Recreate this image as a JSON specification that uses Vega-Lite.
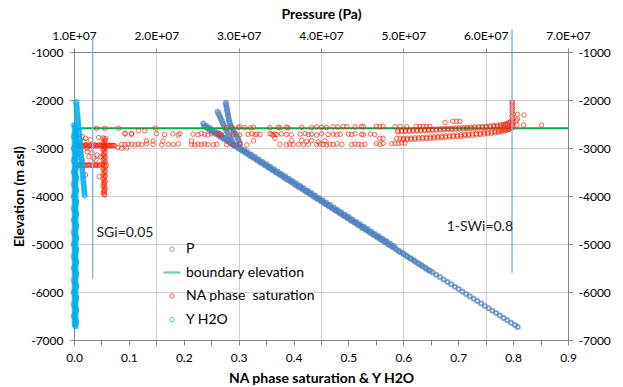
{
"$schema": "https://vega.github.io/schema/vega-lite/v6.json",
"width": 494, "height": 288,
"autosize": "none",
"padding": {"left": 74, "top": 52, "right": 55, "bottom": 47},
"background": "white",
"config": {
 "font": "Lato",
 "view": {"stroke": null},
 "axis": {"labelFont": "Lato", "titleFont": "Lato", "labelFontSize": 12, "labelColor": "#000", "titleColor": "#000", "titleFontSize": 14, "titleFontWeight": "bold", "domainColor": "#868686", "tickColor": "#868686", "gridColor": "#CFCFCF", "gridWidth": 1, "labelFlush": false, "labelOverlap": false}
},
"datasets": {
 "p": [
  {"p":2.580e7,"e":-2540},{"p":2.625e7,"e":-2590},{"p":2.671e7,"e":-2640},{"p":2.716e7,"e":-2690},{"p":2.762e7,"e":-2740},{"p":2.807e7,"e":-2790},{"p":2.853e7,"e":-2840},{"p":2.898e7,"e":-2890},{"p":2.944e7,"e":-2940},{"p":2.989e7,"e":-2990},
  {"p":3.035e7,"e":-3040},{"p":3.080e7,"e":-3090},{"p":3.126e7,"e":-3140},{"p":3.171e7,"e":-3190},{"p":3.217e7,"e":-3240},{"p":3.262e7,"e":-3290},{"p":3.308e7,"e":-3340},{"p":3.353e7,"e":-3390},{"p":3.398e7,"e":-3440},{"p":3.444e7,"e":-3490},
  {"p":3.489e7,"e":-3540},{"p":3.535e7,"e":-3590},{"p":3.580e7,"e":-3640},{"p":3.626e7,"e":-3690},{"p":3.671e7,"e":-3740},{"p":3.717e7,"e":-3790},{"p":3.762e7,"e":-3840},{"p":3.808e7,"e":-3890},{"p":3.853e7,"e":-3940},{"p":3.899e7,"e":-3990},
  {"p":3.944e7,"e":-4040},{"p":3.990e7,"e":-4090},{"p":4.035e7,"e":-4140},{"p":4.081e7,"e":-4190},{"p":4.126e7,"e":-4240},{"p":4.171e7,"e":-4290},{"p":4.217e7,"e":-4340},{"p":4.262e7,"e":-4390},{"p":4.308e7,"e":-4440},{"p":4.353e7,"e":-4490},
  {"p":4.399e7,"e":-4540},{"p":4.444e7,"e":-4590},{"p":4.490e7,"e":-4640},{"p":4.535e7,"e":-4690},{"p":4.581e7,"e":-4740},{"p":4.626e7,"e":-4790},{"p":4.672e7,"e":-4840},{"p":4.717e7,"e":-4890},{"p":4.763e7,"e":-4940},{"p":4.808e7,"e":-4990},
  {"p":4.854e7,"e":-5040},{"p":4.899e7,"e":-5090},{"p":4.944e7,"e":-5140},{"p":4.990e7,"e":-5190},{"p":5.035e7,"e":-5240},{"p":5.081e7,"e":-5290},{"p":5.126e7,"e":-5340},{"p":5.172e7,"e":-5390},{"p":5.217e7,"e":-5440},{"p":5.263e7,"e":-5490},
  {"p":5.308e7,"e":-5540},{"p":5.354e7,"e":-5590},{"p":5.399e7,"e":-5640},{"p":5.445e7,"e":-5690},{"p":5.490e7,"e":-5740},{"p":5.536e7,"e":-5790},{"p":5.581e7,"e":-5840},{"p":5.626e7,"e":-5890},{"p":5.672e7,"e":-5940},{"p":5.717e7,"e":-5990},
  {"p":5.763e7,"e":-6040},{"p":5.808e7,"e":-6090},{"p":5.854e7,"e":-6140},{"p":5.899e7,"e":-6190},{"p":5.945e7,"e":-6240},{"p":5.990e7,"e":-6290},{"p":6.036e7,"e":-6340},{"p":6.081e7,"e":-6390},{"p":6.127e7,"e":-6440},{"p":6.172e7,"e":-6490},
  {"p":6.218e7,"e":-6540},{"p":6.263e7,"e":-6590},{"p":6.308e7,"e":-6640},{"p":6.354e7,"e":-6690},{"p":6.390e7,"e":-6730},
  {"p":2.610e7,"e":-2540},{"p":2.655e7,"e":-2590},{"p":2.701e7,"e":-2640},{"p":2.746e7,"e":-2690},{"p":2.792e7,"e":-2740},{"p":2.837e7,"e":-2790},{"p":2.883e7,"e":-2840},{"p":2.928e7,"e":-2890},{"p":2.974e7,"e":-2940},{"p":3.019e7,"e":-2990},
  {"p":3.065e7,"e":-3040},{"p":3.110e7,"e":-3090},{"p":3.156e7,"e":-3140},{"p":3.201e7,"e":-3190},{"p":3.247e7,"e":-3240},{"p":3.292e7,"e":-3290},{"p":3.338e7,"e":-3340},{"p":3.383e7,"e":-3390},{"p":3.428e7,"e":-3440},{"p":3.474e7,"e":-3490},
  {"p":3.519e7,"e":-3540},{"p":3.565e7,"e":-3590},{"p":3.610e7,"e":-3640},{"p":3.656e7,"e":-3690},{"p":3.701e7,"e":-3740},{"p":3.747e7,"e":-3790},{"p":3.792e7,"e":-3840},{"p":3.838e7,"e":-3890},{"p":3.883e7,"e":-3940},{"p":3.929e7,"e":-3990},
  {"p":3.974e7,"e":-4040},{"p":4.020e7,"e":-4090},{"p":4.065e7,"e":-4140},{"p":4.111e7,"e":-4190},{"p":4.156e7,"e":-4240},{"p":4.201e7,"e":-4290},{"p":4.247e7,"e":-4340},{"p":4.292e7,"e":-4390},{"p":4.338e7,"e":-4440},{"p":4.383e7,"e":-4490},
  {"p":4.429e7,"e":-4540},{"p":4.474e7,"e":-4590},{"p":4.520e7,"e":-4640},{"p":4.565e7,"e":-4690},{"p":4.611e7,"e":-4740},{"p":4.656e7,"e":-4790},{"p":4.702e7,"e":-4840},{"p":4.747e7,"e":-4890},{"p":4.793e7,"e":-4940},{"p":4.838e7,"e":-4990},{"p":4.884e7,"e":-5040},
  {"p":2.595e7,"e":-2565},{"p":2.640e7,"e":-2615},{"p":2.686e7,"e":-2665},{"p":2.731e7,"e":-2715},{"p":2.777e7,"e":-2765},{"p":2.822e7,"e":-2815},{"p":2.868e7,"e":-2865},{"p":2.913e7,"e":-2915},{"p":2.959e7,"e":-2965},{"p":3.004e7,"e":-3015},
  {"p":3.050e7,"e":-3065},{"p":3.095e7,"e":-3115},{"p":3.141e7,"e":-3165},{"p":3.186e7,"e":-3215},{"p":3.232e7,"e":-3265},{"p":3.277e7,"e":-3315},{"p":3.323e7,"e":-3365},{"p":3.368e7,"e":-3415},{"p":3.413e7,"e":-3465},{"p":3.459e7,"e":-3515},
  {"p":3.504e7,"e":-3565},{"p":3.550e7,"e":-3615},{"p":3.595e7,"e":-3665},{"p":3.641e7,"e":-3715},{"p":3.686e7,"e":-3765},{"p":3.732e7,"e":-3815},{"p":3.777e7,"e":-3865},{"p":3.823e7,"e":-3915},{"p":3.868e7,"e":-3965},{"p":3.914e7,"e":-4015},
  {"p":3.959e7,"e":-4065},{"p":4.005e7,"e":-4115},{"p":4.050e7,"e":-4165},{"p":4.096e7,"e":-4215},{"p":4.141e7,"e":-4265},{"p":4.186e7,"e":-4315},{"p":4.232e7,"e":-4365},{"p":4.277e7,"e":-4415},{"p":4.323e7,"e":-4465},{"p":4.368e7,"e":-4515},
  {"p":4.414e7,"e":-4565},{"p":4.459e7,"e":-4615},{"p":4.505e7,"e":-4665},{"p":4.550e7,"e":-4715},{"p":4.596e7,"e":-4765},{"p":4.641e7,"e":-4815},{"p":4.687e7,"e":-4865},{"p":4.732e7,"e":-4915},{"p":4.778e7,"e":-4965},{"p":4.823e7,"e":-5015},
  {"p":4.869e7,"e":-5065},{"p":4.914e7,"e":-5115},{"p":4.959e7,"e":-5165},{"p":5.005e7,"e":-5215},{"p":5.050e7,"e":-5265},{"p":5.096e7,"e":-5315},{"p":5.141e7,"e":-5365},{"p":5.187e7,"e":-5415},{"p":5.232e7,"e":-5465},{"p":5.278e7,"e":-5515},{"p":5.323e7,"e":-5565},
  {"p":2.843e7,"e":-2056},{"p":2.848e7,"e":-2100},{"p":2.853e7,"e":-2150},{"p":2.858e7,"e":-2200},{"p":2.864e7,"e":-2250},{"p":2.869e7,"e":-2300},{"p":2.875e7,"e":-2350},{"p":2.880e7,"e":-2400},{"p":2.886e7,"e":-2450},{"p":2.891e7,"e":-2485},
  {"p":2.905e7,"e":-2530},{"p":2.918e7,"e":-2580},{"p":2.932e7,"e":-2630},{"p":2.946e7,"e":-2675},{"p":2.960e7,"e":-2710},{"p":2.975e7,"e":-2750},{"p":2.990e7,"e":-2800},{"p":3.003e7,"e":-2850},{"p":3.016e7,"e":-2900},
  {"p":2.745e7,"e":-2244},{"p":2.757e7,"e":-2290},{"p":2.770e7,"e":-2340},{"p":2.783e7,"e":-2390},{"p":2.796e7,"e":-2440},{"p":2.809e7,"e":-2490},{"p":2.821e7,"e":-2540},{"p":2.834e7,"e":-2590},{"p":2.851e7,"e":-2640},{"p":2.867e7,"e":-2690},{"p":2.884e7,"e":-2740},{"p":2.900e7,"e":-2790},{"p":2.915e7,"e":-2833},
  {"p":2.570e7,"e":-2490}
 ],
 "bnd": [{"x":0,"e":-2590},{"x":0.9,"e":-2590}],
 "na": [
  {"x":0.006,"e":-2930},{"x":0.010,"e":-2960},{"x":0.014,"e":-2935},{"x":0.018,"e":-2965},{"x":0.022,"e":-2930},{"x":0.026,"e":-2960},{"x":0.030,"e":-2935},{"x":0.034,"e":-2965},{"x":0.038,"e":-2930},{"x":0.042,"e":-2960},{"x":0.046,"e":-2935},{"x":0.050,"e":-2965},{"x":0.054,"e":-2930},{"x":0.058,"e":-2960},{"x":0.062,"e":-2940},{"x":0.066,"e":-2955},{"x":0.070,"e":-2945},{"x":0.074,"e":-2950},
  {"x":0.008,"e":-2948},{"x":0.012,"e":-2945},{"x":0.016,"e":-2950},{"x":0.020,"e":-2945},{"x":0.024,"e":-2950},{"x":0.028,"e":-2945},{"x":0.032,"e":-2950},{"x":0.036,"e":-2945},{"x":0.040,"e":-2950},{"x":0.044,"e":-2945},{"x":0.048,"e":-2950},{"x":0.052,"e":-2945},{"x":0.056,"e":-2950},{"x":0.060,"e":-2945},{"x":0.064,"e":-2950},{"x":0.068,"e":-2945},{"x":0.072,"e":-2950},
  {"x":0.053,"e":-2790},{"x":0.057,"e":-2840},{"x":0.053,"e":-2890},{"x":0.057,"e":-2990},{"x":0.053,"e":-3040},{"x":0.057,"e":-3090},{"x":0.053,"e":-3140},{"x":0.057,"e":-3190},{"x":0.053,"e":-3240},{"x":0.057,"e":-3290},{"x":0.053,"e":-3340},{"x":0.057,"e":-3390},{"x":0.053,"e":-3440},{"x":0.057,"e":-3490},{"x":0.053,"e":-3540},{"x":0.057,"e":-3590},{"x":0.053,"e":-3640},{"x":0.057,"e":-3690},{"x":0.055,"e":-3740},{"x":0.053,"e":-3790},{"x":0.057,"e":-3840},{"x":0.055,"e":-3890},{"x":0.053,"e":-3940},{"x":0.056,"e":-3980},
  {"x":0.055,"e":-2815},{"x":0.055,"e":-2865},{"x":0.055,"e":-2915},{"x":0.055,"e":-2965},{"x":0.055,"e":-3015},{"x":0.055,"e":-3065},{"x":0.055,"e":-3115},{"x":0.055,"e":-3165},{"x":0.055,"e":-3215},{"x":0.055,"e":-3265},{"x":0.055,"e":-3315},{"x":0.055,"e":-3365},{"x":0.055,"e":-3415},{"x":0.055,"e":-3465},{"x":0.055,"e":-3515},{"x":0.055,"e":-3565},{"x":0.055,"e":-3615},{"x":0.055,"e":-3665},{"x":0.055,"e":-3715},{"x":0.055,"e":-3765},{"x":0.055,"e":-3815},{"x":0.055,"e":-3865},{"x":0.055,"e":-3915},{"x":0.055,"e":-3965},
  {"x":0.004,"e":-3360},{"x":0.009,"e":-3350},{"x":0.014,"e":-3365},{"x":0.019,"e":-3350},{"x":0.024,"e":-3360},{"x":0.029,"e":-3350},{"x":0.034,"e":-3365},{"x":0.039,"e":-3355},{"x":0.044,"e":-3360},{"x":0.049,"e":-3350},
  {"x":0.0065,"e":-3355},{"x":0.0115,"e":-3360},{"x":0.0165,"e":-3355},{"x":0.0215,"e":-3360},{"x":0.0265,"e":-3355},{"x":0.0315,"e":-3360},{"x":0.0365,"e":-3355},{"x":0.0415,"e":-3360},{"x":0.0465,"e":-3355},{"x":0.059,"e":-3355},
  {"x":0.015,"e":-2764},{"x":0.021,"e":-2798},{"x":0.018,"e":-2868},{"x":0.024,"e":-3077},{"x":0.009,"e":-3110},{"x":0.027,"e":-3181},{"x":0.036,"e":-3214},{"x":0.042,"e":-3146},{"x":0.021,"e":-3563},{"x":0.040,"e":-3250},{"x":0.049,"e":-3181},{"x":0.058,"e":-2798},{"x":0.024,"e":-3006},{"x":0.015,"e":-3250},{"x":0.046,"e":-3598},{"x":0.010,"e":-2800},{"x":0.030,"e":-2830},{"x":0.012,"e":-3050},{"x":0.033,"e":-3100},{"x":0.006,"e":-3200},{"x":0.045,"e":-2780},
  {"x":0.041,"e":-2590},{"x":0.056,"e":-2590},{"x":0.081,"e":-2590},{"x":0.093,"e":-2694},{"x":0.105,"e":-2694},{"x":0.117,"e":-2640},{"x":0.129,"e":-2640},{"x":0.087,"e":-3006},{"x":0.096,"e":-3000},{"x":0.080,"e":-2990},
  {"x":0.148,"e":-2585},{"x":0.278,"e":-2575},{"x":0.287,"e":-2578},{"x":0.299,"e":-2570},{"x":0.302,"e":-2560},{"x":0.311,"e":-2575},{"x":0.321,"e":-2580},{"x":0.327,"e":-2570},{"x":0.357,"e":-2575},{"x":0.372,"e":-2570},{"x":0.375,"e":-2580},{"x":0.387,"e":-2565},{"x":0.390,"e":-2578},{"x":0.415,"e":-2570},{"x":0.433,"e":-2575},{"x":0.442,"e":-2560},{"x":0.451,"e":-2570},{"x":0.460,"e":-2575},{"x":0.472,"e":-2556},{"x":0.481,"e":-2560},{"x":0.491,"e":-2552},{"x":0.497,"e":-2556},{"x":0.512,"e":-2560},{"x":0.524,"e":-2550},{"x":0.527,"e":-2556},{"x":0.551,"e":-2550},{"x":0.557,"e":-2556},{"x":0.563,"e":-2550},{"x":0.585,"e":-2556},{"x":0.594,"e":-2550},{"x":0.606,"e":-2556},{"x":0.624,"e":-2548},{"x":0.630,"e":-2552},{"x":0.636,"e":-2548},{"x":0.642,"e":-2552},{"x":0.648,"e":-2545},
  {"x":0.093,"e":-2708},{"x":0.105,"e":-2715},{"x":0.150,"e":-2700},{"x":0.165,"e":-2720},{"x":0.180,"e":-2705},{"x":0.190,"e":-2730},{"x":0.193,"e":-2700},{"x":0.217,"e":-2710},{"x":0.226,"e":-2725},{"x":0.232,"e":-2700},{"x":0.238,"e":-2715},{"x":0.244,"e":-2730},{"x":0.250,"e":-2705},{"x":0.263,"e":-2720},{"x":0.266,"e":-2700},{"x":0.269,"e":-2730},{"x":0.290,"e":-2710},{"x":0.302,"e":-2730},{"x":0.317,"e":-2715},{"x":0.324,"e":-2705},{"x":0.330,"e":-2725},{"x":0.333,"e":-2710},{"x":0.339,"e":-2720},{"x":0.357,"e":-2700},{"x":0.360,"e":-2715},{"x":0.363,"e":-2730},{"x":0.366,"e":-2710},{"x":0.369,"e":-2720},{"x":0.378,"e":-2705},{"x":0.387,"e":-2715},{"x":0.396,"e":-2725},{"x":0.412,"e":-2710},{"x":0.421,"e":-2700},{"x":0.427,"e":-2720},{"x":0.433,"e":-2710},{"x":0.442,"e":-2730},{"x":0.451,"e":-2705},{"x":0.463,"e":-2720},{"x":0.472,"e":-2710},{"x":0.479,"e":-2725},{"x":0.485,"e":-2715},{"x":0.500,"e":-2710},{"x":0.506,"e":-2720},{"x":0.512,"e":-2705},{"x":0.524,"e":-2715},{"x":0.527,"e":-2725},{"x":0.540,"e":-2710},{"x":0.548,"e":-2720},
  {"x":0.132,"e":-2854},{"x":0.144,"e":-2854},{"x":0.162,"e":-2854},{"x":0.214,"e":-2854},{"x":0.327,"e":-2850},{"x":0.366,"e":-2798},{"x":0.397,"e":-2850},{"x":0.415,"e":-2840},{"x":0.424,"e":-2860},{"x":0.433,"e":-2845},{"x":0.445,"e":-2870},{"x":0.457,"e":-2850},{"x":0.557,"e":-2798},{"x":0.563,"e":-2798},{"x":0.588,"e":-2798},{"x":0.594,"e":-2798},
  {"x":0.087,"e":-2923},{"x":0.093,"e":-2930},{"x":0.099,"e":-2915},{"x":0.105,"e":-2925},{"x":0.111,"e":-2935},{"x":0.117,"e":-2920},{"x":0.123,"e":-2930},{"x":0.132,"e":-2915},{"x":0.144,"e":-2925},{"x":0.160,"e":-2935},{"x":0.172,"e":-2920},{"x":0.181,"e":-2930},{"x":0.190,"e":-2915},{"x":0.214,"e":-2925},{"x":0.220,"e":-2935},{"x":0.226,"e":-2920},{"x":0.232,"e":-2930},{"x":0.238,"e":-2915},{"x":0.244,"e":-2925},{"x":0.254,"e":-2935},{"x":0.260,"e":-2920},{"x":0.278,"e":-2930},{"x":0.290,"e":-2940},{"x":0.302,"e":-2920},{"x":0.315,"e":-2935},{"x":0.375,"e":-2925},{"x":0.387,"e":-2935},{"x":0.393,"e":-2920},{"x":0.399,"e":-2930},{"x":0.409,"e":-2925},{"x":0.418,"e":-2935},{"x":0.427,"e":-2920},{"x":0.442,"e":-2930},{"x":0.448,"e":-2915},{"x":0.454,"e":-2925},{"x":0.460,"e":-2935},{"x":0.466,"e":-2920},{"x":0.472,"e":-2930},{"x":0.479,"e":-2915},{"x":0.488,"e":-2925},{"x":0.506,"e":-2930},{"x":0.512,"e":-2915},{"x":0.518,"e":-2925},{"x":0.524,"e":-2935},{"x":0.530,"e":-2920},{"x":0.551,"e":-2910},{"x":0.557,"e":-2920},{"x":0.563,"e":-2905},{"x":0.579,"e":-2910},{"x":0.585,"e":-2900},{"x":0.591,"e":-2905},{"x":0.597,"e":-2895},{"x":0.603,"e":-2900},
  {"x":0.590,"e":-2640},{"x":0.597,"e":-2637},{"x":0.604,"e":-2633},{"x":0.611,"e":-2630},{"x":0.618,"e":-2626},{"x":0.625,"e":-2623},{"x":0.632,"e":-2620},{"x":0.639,"e":-2617},{"x":0.646,"e":-2613},{"x":0.653,"e":-2609},{"x":0.660,"e":-2605},{"x":0.667,"e":-2601},{"x":0.674,"e":-2597},{"x":0.681,"e":-2593},{"x":0.688,"e":-2589},{"x":0.695,"e":-2585},{"x":0.702,"e":-2581},{"x":0.709,"e":-2577},{"x":0.716,"e":-2572},{"x":0.723,"e":-2567},{"x":0.730,"e":-2562},{"x":0.737,"e":-2557},{"x":0.744,"e":-2552},{"x":0.751,"e":-2546},{"x":0.758,"e":-2540},{"x":0.765,"e":-2533},{"x":0.771,"e":-2526},{"x":0.777,"e":-2518},{"x":0.782,"e":-2508},{"x":0.786,"e":-2497},{"x":0.790,"e":-2484},{"x":0.793,"e":-2470},{"x":0.795,"e":-2455},
  {"x":0.590,"e":-2665},{"x":0.597,"e":-2662},{"x":0.604,"e":-2658},{"x":0.611,"e":-2655},{"x":0.618,"e":-2651},{"x":0.625,"e":-2648},{"x":0.632,"e":-2645},{"x":0.639,"e":-2642},{"x":0.646,"e":-2638},{"x":0.653,"e":-2634},{"x":0.660,"e":-2630},{"x":0.667,"e":-2626},{"x":0.674,"e":-2622},{"x":0.681,"e":-2618},{"x":0.688,"e":-2614},{"x":0.695,"e":-2610},{"x":0.702,"e":-2606},{"x":0.709,"e":-2602},{"x":0.716,"e":-2597},{"x":0.723,"e":-2592},{"x":0.730,"e":-2587},{"x":0.737,"e":-2582},{"x":0.744,"e":-2577},{"x":0.751,"e":-2571},{"x":0.758,"e":-2565},{"x":0.765,"e":-2558},{"x":0.771,"e":-2551},{"x":0.777,"e":-2543},{"x":0.782,"e":-2533},{"x":0.786,"e":-2522},{"x":0.790,"e":-2509},
  {"x":0.600,"e":-2830},{"x":0.607,"e":-2826},{"x":0.614,"e":-2822},{"x":0.621,"e":-2818},{"x":0.628,"e":-2814},{"x":0.635,"e":-2810},{"x":0.642,"e":-2805},{"x":0.649,"e":-2800},{"x":0.656,"e":-2795},{"x":0.663,"e":-2790},{"x":0.670,"e":-2785},{"x":0.677,"e":-2779},{"x":0.684,"e":-2773},{"x":0.691,"e":-2767},{"x":0.698,"e":-2761},{"x":0.705,"e":-2755},{"x":0.712,"e":-2748},{"x":0.719,"e":-2741},{"x":0.726,"e":-2734},{"x":0.733,"e":-2727},{"x":0.740,"e":-2719},{"x":0.747,"e":-2711},{"x":0.754,"e":-2702},{"x":0.761,"e":-2693},{"x":0.767,"e":-2683},{"x":0.773,"e":-2672},{"x":0.778,"e":-2661},{"x":0.783,"e":-2648},{"x":0.787,"e":-2635},{"x":0.791,"e":-2620},{"x":0.794,"e":-2605},{"x":0.796,"e":-2590},
  {"x":0.600,"e":-2800},{"x":0.607,"e":-2796},{"x":0.614,"e":-2792},{"x":0.621,"e":-2788},{"x":0.628,"e":-2784},{"x":0.635,"e":-2780},{"x":0.642,"e":-2775},{"x":0.649,"e":-2770},{"x":0.656,"e":-2765},{"x":0.663,"e":-2760},{"x":0.670,"e":-2755},{"x":0.677,"e":-2749},{"x":0.684,"e":-2743},{"x":0.691,"e":-2737},{"x":0.698,"e":-2731},{"x":0.705,"e":-2725},{"x":0.712,"e":-2718},{"x":0.719,"e":-2711},{"x":0.726,"e":-2704},{"x":0.733,"e":-2697},{"x":0.740,"e":-2689},{"x":0.747,"e":-2681},{"x":0.754,"e":-2672},{"x":0.761,"e":-2663},{"x":0.767,"e":-2653},{"x":0.773,"e":-2642},{"x":0.778,"e":-2631},{"x":0.783,"e":-2618},{"x":0.787,"e":-2605},{"x":0.791,"e":-2590},
  {"x":0.798,"e":-2580},{"x":0.799,"e":-2540},{"x":0.798,"e":-2500},{"x":0.799,"e":-2460},{"x":0.798,"e":-2420},{"x":0.799,"e":-2380},{"x":0.798,"e":-2340},{"x":0.799,"e":-2300},{"x":0.798,"e":-2260},{"x":0.799,"e":-2220},{"x":0.798,"e":-2180},{"x":0.799,"e":-2140},{"x":0.798,"e":-2100},{"x":0.799,"e":-2060},{"x":0.798,"e":-2040},
  {"x":0.808,"e":-2298},{"x":0.820,"e":-2313},{"x":0.808,"e":-2396},{"x":0.819,"e":-2521},{"x":0.807,"e":-2521},{"x":0.852,"e":-2521},{"x":0.806,"e":-2431},
  {"x":0.676,"e":-2465},{"x":0.690,"e":-2445},{"x":0.697,"e":-2445},{"x":0.703,"e":-2445}
 ],
 "yh": [
  {"x":0,"e":-2520},{"x":0.002,"e":-2570},{"x":0.004,"e":-2620},{"x":0.001,"e":-2670},{"x":0.003,"e":-2720},{"x":0,"e":-2770},{"x":0.002,"e":-2820},{"x":0.004,"e":-2870},{"x":0.001,"e":-2920},{"x":0.003,"e":-2970},
  {"x":0,"e":-3020},{"x":0.002,"e":-3070},{"x":0.004,"e":-3120},{"x":0.001,"e":-3170},{"x":0.003,"e":-3220},{"x":0,"e":-3270},{"x":0.002,"e":-3320},{"x":0.004,"e":-3370},{"x":0.001,"e":-3420},{"x":0.003,"e":-3470},
  {"x":0,"e":-3520},{"x":0.002,"e":-3570},{"x":0.004,"e":-3620},{"x":0.001,"e":-3670},{"x":0.003,"e":-3720},{"x":0,"e":-3770},{"x":0.002,"e":-3820},{"x":0.004,"e":-3870},{"x":0.001,"e":-3920},{"x":0.003,"e":-3970},
  {"x":0,"e":-4020},{"x":0.002,"e":-4070},{"x":0.004,"e":-4120},{"x":0.001,"e":-4170},{"x":0.003,"e":-4220},{"x":0,"e":-4270},{"x":0.002,"e":-4320},{"x":0.004,"e":-4370},{"x":0.001,"e":-4420},{"x":0.003,"e":-4470},
  {"x":0,"e":-4520},{"x":0.002,"e":-4570},{"x":0.004,"e":-4620},{"x":0.001,"e":-4670},{"x":0.003,"e":-4720},{"x":0,"e":-4770},{"x":0.002,"e":-4820},{"x":0.004,"e":-4870},{"x":0.001,"e":-4920},{"x":0.003,"e":-4970},
  {"x":0,"e":-5020},{"x":0.002,"e":-5070},{"x":0.004,"e":-5120},{"x":0.001,"e":-5170},{"x":0.003,"e":-5220},{"x":0,"e":-5270},{"x":0.002,"e":-5320},{"x":0.004,"e":-5370},{"x":0.001,"e":-5420},{"x":0.003,"e":-5470},
  {"x":0,"e":-5520},{"x":0.002,"e":-5570},{"x":0.004,"e":-5620},{"x":0.001,"e":-5670},{"x":0.003,"e":-5720},{"x":0,"e":-5770},{"x":0.002,"e":-5820},{"x":0.004,"e":-5870},{"x":0.001,"e":-5920},{"x":0.003,"e":-5970},
  {"x":0,"e":-6020},{"x":0.002,"e":-6070},{"x":0.004,"e":-6120},{"x":0.001,"e":-6170},{"x":0.003,"e":-6220},{"x":0,"e":-6270},{"x":0.002,"e":-6320},{"x":0.004,"e":-6370},{"x":0.001,"e":-6420},{"x":0.003,"e":-6470},
  {"x":0,"e":-6520},{"x":0.002,"e":-6570},{"x":0.004,"e":-6620},{"x":0.001,"e":-6670},{"x":0.003,"e":-6720},
  {"x":0.003,"e":-2545},{"x":0.001,"e":-2595},{"x":0.004,"e":-2645},{"x":0.002,"e":-2695},{"x":0,"e":-2745},{"x":0.003,"e":-2795},{"x":0.001,"e":-2845},{"x":0.004,"e":-2895},{"x":0.002,"e":-2945},{"x":0,"e":-2995},
  {"x":0.003,"e":-3045},{"x":0.001,"e":-3095},{"x":0.004,"e":-3145},{"x":0.002,"e":-3195},{"x":0,"e":-3245},{"x":0.003,"e":-3295},{"x":0.001,"e":-3345},{"x":0.004,"e":-3395},{"x":0.002,"e":-3445},{"x":0,"e":-3495},
  {"x":0.003,"e":-3545},{"x":0.001,"e":-3595},{"x":0.004,"e":-3645},{"x":0.002,"e":-3695},{"x":0,"e":-3745},{"x":0.003,"e":-3795},{"x":0.001,"e":-3845},{"x":0.004,"e":-3895},{"x":0.002,"e":-3945},{"x":0,"e":-3995},
  {"x":0.003,"e":-4045},{"x":0.001,"e":-4095},{"x":0.004,"e":-4145},{"x":0.002,"e":-4195},{"x":0,"e":-4245},{"x":0.003,"e":-4295},{"x":0.001,"e":-4345},{"x":0.004,"e":-4395},{"x":0.002,"e":-4445},{"x":0,"e":-4495},
  {"x":0.003,"e":-4545},{"x":0.001,"e":-4595},{"x":0.004,"e":-4645},{"x":0.002,"e":-4695},{"x":0,"e":-4745},{"x":0.003,"e":-4795},{"x":0.001,"e":-4845},{"x":0.004,"e":-4895},{"x":0.002,"e":-4945},{"x":0,"e":-4995},
  {"x":0.003,"e":-5045},{"x":0.001,"e":-5095},{"x":0.004,"e":-5145},{"x":0.002,"e":-5195},{"x":0,"e":-5245},{"x":0.003,"e":-5295},{"x":0.001,"e":-5345},{"x":0.004,"e":-5395},{"x":0.002,"e":-5445},{"x":0,"e":-5495},
  {"x":0.003,"e":-5545},{"x":0.001,"e":-5595},{"x":0.004,"e":-5645},{"x":0.002,"e":-5695},{"x":0,"e":-5745},{"x":0.003,"e":-5795},{"x":0.001,"e":-5845},{"x":0.004,"e":-5895},{"x":0.002,"e":-5945},{"x":0,"e":-5995},
  {"x":0.003,"e":-6045},{"x":0.001,"e":-6095},{"x":0.004,"e":-6145},{"x":0.002,"e":-6195},{"x":0,"e":-6245},{"x":0.003,"e":-6295},{"x":0.001,"e":-6345},{"x":0.004,"e":-6395},{"x":0.002,"e":-6445},{"x":0,"e":-6495},
  {"x":0.003,"e":-6545},{"x":0.001,"e":-6595},{"x":0.004,"e":-6645},{"x":0.002,"e":-6695},
  {"x":0.0040,"e":-2040},{"x":0.0044,"e":-2090},{"x":0.0048,"e":-2140},{"x":0.0052,"e":-2190},{"x":0.0056,"e":-2240},{"x":0.0060,"e":-2290},{"x":0.0064,"e":-2340},{"x":0.0068,"e":-2390},{"x":0.0072,"e":-2440},{"x":0.0076,"e":-2490},
  {"x":0.0080,"e":-2540},{"x":0.0084,"e":-2590},{"x":0.0088,"e":-2640},{"x":0.0092,"e":-2690},{"x":0.0096,"e":-2740},{"x":0.0100,"e":-2790},{"x":0.0104,"e":-2840},{"x":0.0108,"e":-2890},{"x":0.0111,"e":-2940},{"x":0.0115,"e":-2990},
  {"x":0.0119,"e":-3040},{"x":0.0123,"e":-3090},{"x":0.0127,"e":-3140},{"x":0.0131,"e":-3190},{"x":0.0135,"e":-3240},{"x":0.0139,"e":-3290},{"x":0.0143,"e":-3340},{"x":0.0147,"e":-3390},{"x":0.0151,"e":-3440},{"x":0.0155,"e":-3490},
  {"x":0.0159,"e":-3540},{"x":0.0163,"e":-3590},{"x":0.0167,"e":-3640},{"x":0.0171,"e":-3690},{"x":0.0175,"e":-3740},{"x":0.0179,"e":-3790},{"x":0.0183,"e":-3840},{"x":0.0187,"e":-3890},{"x":0.0191,"e":-3940},{"x":0.0195,"e":-3990}
 ],
 "vl": [{"x":0.034,"e":-715,"e2":-5730},{"x":0.798,"e":-527,"e2":-5598}],
 "tx": [{"x":0.041,"e":-4777,"t":"SGi=0.05"},{"x":0.679,"e":-4652,"t":"1-SWi=0.8"}]
},
"layer": [
 {
  "data": {"name": "p"},
  "mark": {"type": "point", "filled": false, "size": 16, "strokeWidth": 2},
  "encoding": {
   "x": {"field": "p", "type": "quantitative", "scale": {"domain": [10000000, 70000000], "nice": false, "zero": false},
    "axis": {"orient": "top", "values": [10000000, 20000000, 30000000, 40000000, 50000000, 60000000, 70000000], "labelExpr": "replace(upper(format(datum.value, '.1e')), 'E+', 'E+0')", "grid": true, "title": "Pressure (Pa)", "tickSize": 4, "labelPadding": 6, "titlePadding": 8}},
   "y": {"field": "e", "type": "quantitative", "scale": {"domain": [-7000, -1000], "nice": false, "zero": false},
    "axis": {"orient": "right", "values": [-7000, -6000, -5000, -4000, -3000, -2000, -1000], "labelExpr": "'' + datum.value", "grid": true, "title": null, "tickSize": 4, "labelPadding": 6}},
   "color": {"datum": "P", "type": "nominal",
    "scale": {"domain": ["P", "boundary elevation", "NA phase  saturation", "Y H2O"], "range": ["#4F81BD", "#00B050", "#FF1E00", "#00B0F0"]},
    "legend": {"title": null, "orient": "none", "legendX": 91, "legendY": 190, "labelFontSize": 14, "labelFont": "Lato", "labelColor": "#000", "rowPadding": 9.5, "symbolSize": 20, "symbolStrokeWidth": 1, "labelOffset": 7,
     "labelExpr": "datum.label === 'NA phase  saturation' ? 'NA phase\u00a0 saturation' : datum.label"}},
   "shape": {"datum": "P", "type": "nominal",
    "scale": {"domain": ["P", "boundary elevation", "NA phase  saturation", "Y H2O"], "range": ["circle", "M-3.6,-0.22H3.6V0.22H-3.6Z", "circle", "circle"]}}
  }
 },
 {
  "encoding": {
   "x": {"field": "x", "type": "quantitative", "scale": {"domain": [0, 0.9], "nice": false, "zero": false},
    "axis": {"orient": "bottom", "values": [0, 0.05, 0.1, 0.15, 0.2, 0.25, 0.3, 0.35, 0.4, 0.45, 0.5, 0.55, 0.6, 0.65, 0.7, 0.75, 0.8, 0.85, 0.9], "labelExpr": "round(datum.value * 100) % 10 === 0 ? format(datum.value, '.1f') : ''", "grid": false, "title": "NA phase saturation & Y H2O", "tickSize": 5, "labelPadding": 7, "titlePadding": 8}},
   "y": {"field": "e", "type": "quantitative", "scale": {"domain": [-7000, -1000], "nice": false, "zero": false},
    "axis": {"orient": "left", "values": [-7000, -6000, -5000, -4000, -3000, -2000, -1000], "labelExpr": "'' + datum.value", "grid": false, "title": "Elevation (m asl)", "tickSize": 4, "labelPadding": 7, "titlePadding": 4}}
  },
  "layer": [
   {"data": {"name": "bnd"}, "mark": {"type": "line", "strokeWidth": 2}, "encoding": {"color": {"datum": "boundary elevation", "type": "nominal"}}},
   {"data": {"name": "na"}, "mark": {"type": "point", "filled": false, "size": 20, "strokeWidth": 1}, "encoding": {"color": {"datum": "NA phase  saturation", "type": "nominal"}, "shape": {"datum": "NA phase  saturation", "type": "nominal"}}},
   {"data": {"name": "yh"}, "mark": {"type": "point", "filled": false, "size": 16, "strokeWidth": 2}, "encoding": {"color": {"datum": "Y H2O", "type": "nominal"}, "shape": {"datum": "Y H2O", "type": "nominal"}}},
   {"data": {"name": "vl"}, "mark": {"type": "rule", "color": "#8EB4E3", "strokeWidth": 1.5}, "encoding": {"y2": {"field": "e2"}}},
   {"data": {"name": "tx"}, "mark": {"type": "text", "align": "left", "baseline": "middle", "fontSize": 14, "font": "Lato", "color": "#1a1a1a"}, "encoding": {"text": {"field": "t"}}}
  ]
 }
],
"resolve": {"scale": {"x": "independent", "y": "independent"}}
}
